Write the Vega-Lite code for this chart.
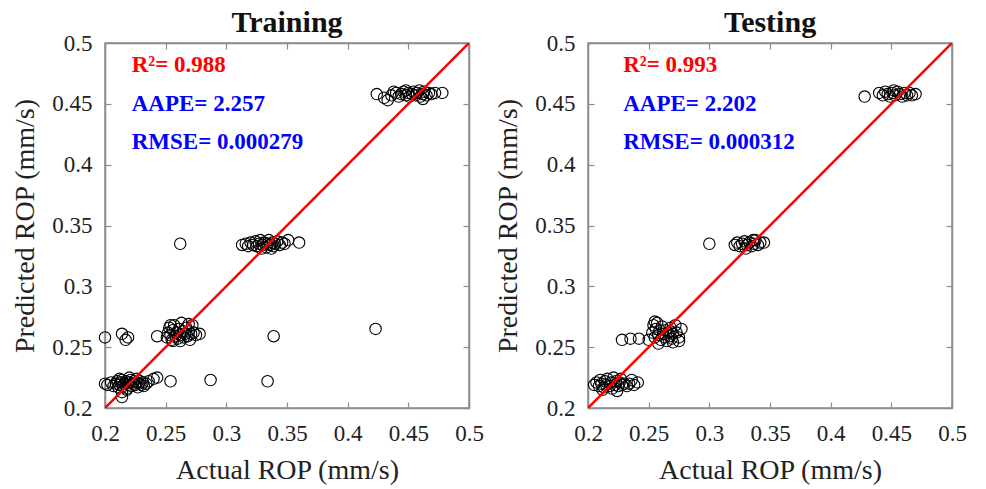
{
 "$schema": "https://vega.github.io/schema/vega-lite/v6.json",
 "background": "white",
 "padding": {"left": 11, "top": 7, "right": 5, "bottom": 5},
 "spacing": 9,
 "config": {
  "font": "Liberation Serif",
  "view": {"stroke": "#8c8c8c", "strokeWidth": 1.5},
  "axis": {"grid": false, "labelFlush": false, "labelFont": "Liberation Serif", "labelFontSize": 23, "labelColor": "#222", "titleFont": "Liberation Serif", "titleFontSize": 28, "titleFontWeight": "normal", "titleColor": "#222", "domainColor": "#8c8c8c", "domainWidth": 1.5, "tickColor": "#8c8c8c", "tickSize": -6, "tickWidth": 1.2}
 },
 "datasets": {
  "train": [
   {"x":0.202,"y":0.219},{"x":0.205,"y":0.221},{"x":0.207,"y":0.218},{"x":0.209,"y":0.22},{"x":0.21,"y":0.222},{"x":0.211,"y":0.217},{"x":0.212,"y":0.219},{"x":0.213,"y":0.221},{"x":0.214,"y":0.223},{"x":0.215,"y":0.218},{"x":0.216,"y":0.22},{"x":0.217,"y":0.222},{"x":0.218,"y":0.216},{"x":0.219,"y":0.219},{"x":0.22,"y":0.221},{"x":0.221,"y":0.223},{"x":0.222,"y":0.218},{"x":0.223,"y":0.22},{"x":0.224,"y":0.222},{"x":0.225,"y":0.219},{"x":0.226,"y":0.221},{"x":0.227,"y":0.217},{"x":0.228,"y":0.22},{"x":0.229,"y":0.222},{"x":0.23,"y":0.219},{"x":0.231,"y":0.221},{"x":0.232,"y":0.218},{"x":0.234,"y":0.22},{"x":0.236,"y":0.222},{"x":0.24,"y":0.224},{"x":0.214,"y":0.213},{"x":0.218,"y":0.215},{"x":0.212,"y":0.224},{"x":0.22,"y":0.225},{"x":0.226,"y":0.224},{"x":0.2,"y":0.22},{"x":0.214,"y":0.209},{"x":0.243,"y":0.225},
   {"x":0.251,"y":0.258},{"x":0.252,"y":0.262},{"x":0.253,"y":0.266},{"x":0.254,"y":0.26},{"x":0.255,"y":0.256},{"x":0.256,"y":0.264},{"x":0.257,"y":0.268},{"x":0.258,"y":0.259},{"x":0.259,"y":0.262},{"x":0.26,"y":0.257},{"x":0.261,"y":0.265},{"x":0.262,"y":0.26},{"x":0.263,"y":0.27},{"x":0.264,"y":0.263},{"x":0.265,"y":0.258},{"x":0.266,"y":0.261},{"x":0.267,"y":0.266},{"x":0.268,"y":0.259},{"x":0.269,"y":0.263},{"x":0.27,"y":0.256},{"x":0.271,"y":0.261},{"x":0.272,"y":0.268},{"x":0.273,"y":0.262},{"x":0.275,"y":0.26},{"x":0.256,"y":0.255},{"x":0.262,"y":0.255},{"x":0.269,"y":0.269},{"x":0.254,"y":0.268},
   {"x":0.278,"y":0.261},{"x":0.2,"y":0.258},{"x":0.214,"y":0.261},{"x":0.217,"y":0.256},{"x":0.219,"y":0.258},{"x":0.243,"y":0.259},{"x":0.339,"y":0.259},{"x":0.423,"y":0.265},{"x":0.254,"y":0.222},{"x":0.287,"y":0.223},{"x":0.334,"y":0.222},{"x":0.262,"y":0.335},
   {"x":0.313,"y":0.334},{"x":0.316,"y":0.335},{"x":0.318,"y":0.333},{"x":0.32,"y":0.336},{"x":0.322,"y":0.334},{"x":0.324,"y":0.337},{"x":0.325,"y":0.333},{"x":0.327,"y":0.335},{"x":0.328,"y":0.338},{"x":0.33,"y":0.334},{"x":0.331,"y":0.336},{"x":0.333,"y":0.332},{"x":0.334,"y":0.335},{"x":0.335,"y":0.338},{"x":0.336,"y":0.334},{"x":0.338,"y":0.336},{"x":0.339,"y":0.333},{"x":0.34,"y":0.335},{"x":0.342,"y":0.337},{"x":0.344,"y":0.334},{"x":0.346,"y":0.336},{"x":0.348,"y":0.335},{"x":0.329,"y":0.331},{"x":0.337,"y":0.331},{"x":0.36,"y":0.336},{"x":0.351,"y":0.338},
   {"x":0.424,"y":0.458},{"x":0.43,"y":0.455},{"x":0.433,"y":0.453},{"x":0.436,"y":0.457},{"x":0.44,"y":0.459},{"x":0.442,"y":0.456},{"x":0.444,"y":0.458},{"x":0.446,"y":0.46},{"x":0.448,"y":0.457},{"x":0.45,"y":0.459},{"x":0.451,"y":0.456},{"x":0.453,"y":0.458},{"x":0.454,"y":0.46},{"x":0.456,"y":0.457},{"x":0.457,"y":0.459},{"x":0.459,"y":0.461},{"x":0.46,"y":0.456},{"x":0.462,"y":0.458},{"x":0.463,"y":0.46},{"x":0.465,"y":0.457},{"x":0.467,"y":0.459},{"x":0.469,"y":0.458},{"x":0.472,"y":0.459},{"x":0.478,"y":0.459},{"x":0.462,"y":0.454},{"x":0.448,"y":0.461},{"x":0.438,"y":0.46}
  ],
  "test": [
   {"x":0.205,"y":0.219},{"x":0.207,"y":0.221},{"x":0.209,"y":0.218},{"x":0.21,"y":0.223},{"x":0.211,"y":0.22},{"x":0.213,"y":0.217},{"x":0.214,"y":0.222},{"x":0.215,"y":0.219},{"x":0.216,"y":0.224},{"x":0.218,"y":0.218},{"x":0.219,"y":0.221},{"x":0.22,"y":0.216},{"x":0.221,"y":0.225},{"x":0.222,"y":0.219},{"x":0.223,"y":0.222},{"x":0.224,"y":0.214},{"x":0.225,"y":0.218},{"x":0.226,"y":0.221},{"x":0.228,"y":0.219},{"x":0.23,"y":0.22},{"x":0.232,"y":0.218},{"x":0.234,"y":0.22},{"x":0.212,"y":0.215},{"x":0.227,"y":0.224},{"x":0.238,"y":0.219},{"x":0.241,"y":0.221},{"x":0.236,"y":0.223},
   {"x":0.228,"y":0.256},{"x":0.235,"y":0.257},{"x":0.242,"y":0.257},{"x":0.25,"y":0.256},
   {"x":0.253,"y":0.262},{"x":0.254,"y":0.268},{"x":0.255,"y":0.258},{"x":0.256,"y":0.265},{"x":0.257,"y":0.27},{"x":0.258,"y":0.26},{"x":0.259,"y":0.264},{"x":0.26,"y":0.256},{"x":0.261,"y":0.267},{"x":0.262,"y":0.261},{"x":0.263,"y":0.258},{"x":0.264,"y":0.264},{"x":0.265,"y":0.255},{"x":0.266,"y":0.262},{"x":0.267,"y":0.259},{"x":0.268,"y":0.263},{"x":0.269,"y":0.257},{"x":0.27,"y":0.261},{"x":0.27,"y":0.254},{"x":0.258,"y":0.253},{"x":0.255,"y":0.271},{"x":0.268,"y":0.266},{"x":0.273,"y":0.262},{"x":0.275,"y":0.258},{"x":0.277,"y":0.265},{"x":0.272,"y":0.268},{"x":0.275,"y":0.255},
   {"x":0.3,"y":0.335},
   {"x":0.321,"y":0.334},{"x":0.323,"y":0.336},{"x":0.325,"y":0.333},{"x":0.327,"y":0.335},{"x":0.329,"y":0.337},{"x":0.331,"y":0.334},{"x":0.333,"y":0.336},{"x":0.335,"y":0.333},{"x":0.337,"y":0.335},{"x":0.338,"y":0.338},{"x":0.34,"y":0.334},{"x":0.342,"y":0.336},{"x":0.345,"y":0.336},{"x":0.33,"y":0.331},{"x":0.336,"y":0.338},
   {"x":0.428,"y":0.456},{"x":0.44,"y":0.459},{"x":0.443,"y":0.457},{"x":0.445,"y":0.46},{"x":0.447,"y":0.458},{"x":0.449,"y":0.456},{"x":0.451,"y":0.459},{"x":0.453,"y":0.457},{"x":0.455,"y":0.46},{"x":0.457,"y":0.458},{"x":0.459,"y":0.456},{"x":0.461,"y":0.459},{"x":0.463,"y":0.457},{"x":0.465,"y":0.459},{"x":0.467,"y":0.457},{"x":0.47,"y":0.458},{"x":0.452,"y":0.461}
  ],
  "diag": [{"x":0.2,"y":0.2},{"x":0.5,"y":0.5}],
  "trainText": [
   {"x":0.222,"y":0.482,"label":"R²= 0.988","c":"#ff0000"},
   {"x":0.222,"y":0.45,"label":"AAPE= 2.257","c":"#0000ff"},
   {"x":0.222,"y":0.419,"label":"RMSE= 0.000279","c":"#0000ff"}
  ],
  "testText": [
   {"x":0.229,"y":0.482,"label":"R²= 0.993","c":"#ff0000"},
   {"x":0.229,"y":0.45,"label":"AAPE= 2.202","c":"#0000ff"},
   {"x":0.229,"y":0.419,"label":"RMSE= 0.000312","c":"#0000ff"}
  ]
 },
 "hconcat": [
  {
   "width": 364, "height": 365,
   "title": {"text": "Training", "fontSize": 30, "fontWeight": "bold", "font": "Liberation Serif", "color": "#111", "offset": -6},
   "layer": [
    {"data": {"name": "train"}, "mark": {"type": "point", "shape": "circle", "filled": false, "color": "black", "opacity": 1, "size": 130, "strokeWidth": 1.1},
     "encoding": {
      "x": {"field": "x", "type": "quantitative", "scale": {"domain": [0.2, 0.5], "nice": false, "zero": false}, "axis": {"orient": "bottom", "title": "Actual ROP (mm/s)", "labelPadding": 20, "titlePadding": 11, "values": [0.2, 0.25, 0.3, 0.35, 0.4, 0.45, 0.5], "format": ".2~f"}},
      "y": {"field": "y", "type": "quantitative", "scale": {"domain": [0.2, 0.5], "nice": false, "zero": false}, "axis": {"orient": "left", "title": "Predicted ROP (mm/s)", "labelPadding": 19, "titlePadding": 12, "values": [0.2, 0.25, 0.3, 0.35, 0.4, 0.45, 0.5], "format": ".2~f"}}}},
    {"data": {"name": "diag"}, "mark": {"type": "line", "color": "#ff0000", "strokeWidth": 2.5, "clip": true},
     "encoding": {
      "x": {"field": "x", "type": "quantitative", "axis": {"orient": "top", "labels": false, "title": null, "values": [0.2, 0.25, 0.3, 0.35, 0.4, 0.45, 0.5]}},
      "y": {"field": "y", "type": "quantitative", "axis": {"orient": "right", "labels": false, "title": null, "values": [0.2, 0.25, 0.3, 0.35, 0.4, 0.45, 0.5]}}}},
    {"data": {"name": "trainText"}, "mark": {"type": "text", "align": "left", "baseline": "middle", "fontSize": 23, "fontWeight": "bold", "font": "Liberation Serif"},
     "encoding": {
      "x": {"field": "x", "type": "quantitative", "axis": null},
      "y": {"field": "y", "type": "quantitative", "axis": null},
      "text": {"field": "label"},
      "color": {"field": "c", "type": "nominal", "scale": null}}}
   ],
   "resolve": {"axis": {"x": "independent", "y": "independent"}}
  },
  {
   "width": 364, "height": 365,
   "title": {"text": "Testing", "fontSize": 30, "fontWeight": "bold", "font": "Liberation Serif", "color": "#111", "offset": -6},
   "layer": [
    {"data": {"name": "test"}, "mark": {"type": "point", "shape": "circle", "filled": false, "color": "black", "opacity": 1, "size": 130, "strokeWidth": 1.1},
     "encoding": {
      "x": {"field": "x", "type": "quantitative", "scale": {"domain": [0.2, 0.5], "nice": false, "zero": false}, "axis": {"orient": "bottom", "title": "Actual ROP (mm/s)", "labelPadding": 20, "titlePadding": 11, "values": [0.2, 0.25, 0.3, 0.35, 0.4, 0.45, 0.5], "format": ".2~f"}},
      "y": {"field": "y", "type": "quantitative", "scale": {"domain": [0.2, 0.5], "nice": false, "zero": false}, "axis": {"orient": "left", "title": "Predicted ROP (mm/s)", "labelPadding": 19, "titlePadding": 12, "values": [0.2, 0.25, 0.3, 0.35, 0.4, 0.45, 0.5], "format": ".2~f"}}}},
    {"data": {"name": "diag"}, "mark": {"type": "line", "color": "#ff0000", "strokeWidth": 2.5, "clip": true},
     "encoding": {
      "x": {"field": "x", "type": "quantitative", "axis": {"orient": "top", "labels": false, "title": null, "values": [0.2, 0.25, 0.3, 0.35, 0.4, 0.45, 0.5]}},
      "y": {"field": "y", "type": "quantitative", "axis": {"orient": "right", "labels": false, "title": null, "values": [0.2, 0.25, 0.3, 0.35, 0.4, 0.45, 0.5]}}}},
    {"data": {"name": "testText"}, "mark": {"type": "text", "align": "left", "baseline": "middle", "fontSize": 23, "fontWeight": "bold", "font": "Liberation Serif"},
     "encoding": {
      "x": {"field": "x", "type": "quantitative", "axis": null},
      "y": {"field": "y", "type": "quantitative", "axis": null},
      "text": {"field": "label"},
      "color": {"field": "c", "type": "nominal", "scale": null}}}
   ],
   "resolve": {"axis": {"x": "independent", "y": "independent"}}
  }
 ]
}
